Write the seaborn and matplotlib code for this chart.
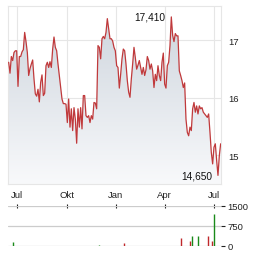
import numpy as np
import pandas as pd
import matplotlib
matplotlib.use("Agg")
import matplotlib.pyplot as plt
from matplotlib.colors import LinearSegmentedColormap
import matplotlib.dates as mdates
import seaborn as sns

# ---------------- data ----------------
start_date = "2023-06-15"
end_date = "2024-07-14"
prices = [
    16.62, 16.43, 16.72, 16.65, 16.79, 16.82, 16.82, 16.20, 16.72, 16.72,
    16.80, 16.84, 17.14, 16.98, 16.79, 16.39, 16.51, 16.59, 16.66, 16.33,
    16.07, 16.03, 16.15, 15.93, 16.27, 16.40, 16.04, 16.08, 16.56, 16.62,
    16.53, 16.63, 16.53, 16.85, 17.06, 16.88, 16.82, 16.59, 16.39, 16.18,
    15.98, 15.90, 15.90, 15.89, 15.57, 15.98, 15.49, 15.81, 15.43, 15.83,
    15.63, 15.21, 15.81, 15.49, 15.83, 15.46, 16.04, 16.04, 15.69, 15.66,
    15.69, 15.57, 15.69, 15.63, 15.92, 15.91, 15.81, 16.91, 16.88, 16.68,
    17.03, 17.07, 17.03, 17.14, 17.38, 17.20, 17.03, 17.03, 16.99, 16.88,
    16.82, 16.56, 16.53, 16.17, 16.41, 16.68, 16.85, 16.82, 16.59, 16.30,
    16.10, 16.01, 16.33, 16.59, 16.88, 16.70, 16.50, 16.57, 16.65, 16.53,
    16.41, 16.53, 16.39, 16.49, 16.72, 16.65, 16.50, 16.59, 16.47, 16.18,
    16.41, 16.30, 16.56, 16.39, 16.30, 16.62, 16.78, 16.24, 16.17, 16.56,
    16.62, 16.91, 17.41, 17.09, 16.98, 17.12, 17.08, 17.08, 16.47, 16.39,
    16.30, 16.18, 16.26, 15.63, 15.40, 15.34, 15.49, 15.43, 15.81, 15.92,
    15.75, 15.86, 15.72, 15.86, 15.81, 15.83, 15.75, 15.72, 15.69, 15.66,
    15.72, 15.40, 15.05, 14.85, 15.14, 15.20, 14.91, 14.65, 14.99, 15.20,
]
vol_dates = ["2023-06-23", "2023-11-30", "2024-01-16", "2024-05-01", "2024-05-18",
             "2024-05-21", "2024-06-01", "2024-06-21", "2024-06-28", "2024-07-01"]
vol_values = [140, 50, 110, 290, 170, 370, 370, 370, 170, 1200]
vol_up = [True, True, False, False, False, True, True, False, False, True]

month_ticks = ["2023-07-01", "2023-10-01", "2024-01-01", "2024-04-01", "2024-07-01"]
month_labels = ["Jul", "Okt", "Jan", "Apr", "Jul"]
price_ticks = [15, 16, 17]
vol_ticks = [0, 750, 1500]
vol_tick_labels = ["0", "750", "1500"]
max_label = "17,410"
min_label = "14,650"

# ---------------- styling ----------------
sns.set_style("white")
plt.rcParams["font.family"] = ["Liberation Sans", "DejaVu Sans"]

LINE = "#c0393b"
GRID = "#e6e6e6"
TXT = "#222222"

df = pd.DataFrame({
    "date": pd.date_range(start_date, end_date, periods=len(prices)),
    "price": prices,
})
vdf = pd.DataFrame({"date": pd.to_datetime(vol_dates), "vol": vol_values, "up": vol_up})

fig = plt.figure(figsize=(2.64, 2.55), dpi=100)
ax = fig.add_axes([8 / 264, 70 / 255, 213 / 264, 178 / 255])
axv = fig.add_axes([8 / 264, 8 / 255, 213 / 264, 40 / 255])

xlo = pd.Timestamp("2023-06-13 18:00")
xhi = pd.Timestamp("2024-07-14 16:00")
ylo, yhi = 14.5, 17.6

# gradient fill under the line
xnum = mdates.date2num(df["date"])
poly = ax.fill_between(xnum, df["price"], ylo, facecolor="none", lw=0)
cmap = LinearSegmentedColormap.from_list("g", ["#f8f9fb", "#cfd6de"])
grad = np.linspace(0, 1, 256).reshape(-1, 1)
im = ax.imshow(grad, extent=[xnum[0], xnum[-1], ylo, max(prices)], aspect="auto",
               cmap=cmap, origin="lower", zorder=1, interpolation="bilinear")
im.set_clip_path(poly.get_paths()[0], transform=ax.transData)

sns.lineplot(data=df, x="date", y="price", ax=ax, color=LINE, lw=0.9, zorder=3)

ax.set_xlim(xlo, xhi)
ax.set_ylim(ylo, yhi)
ax.set_xticks(pd.to_datetime(month_ticks))
ax.set_xticklabels(month_labels)
ax.set_yticks(price_ticks)
ax.set_yticklabels([str(t) for t in price_ticks])
ax.yaxis.tick_right()
ax.tick_params(axis="both", length=0, labelsize=6.8, colors=TXT)
ax.tick_params(axis="x", pad=4)
ax.tick_params(axis="y", pad=5)
ax.grid(True, color=GRID, lw=0.8)
ax.set_axisbelow(True)
for s in ax.spines.values():
    s.set_visible(True)
    s.set_color(GRID)
    s.set_linewidth(0.8)
ax.set_xlabel("")
ax.set_ylabel("")

# annotations
imax = int(np.argmax(prices))
imin = int(np.argmin(prices))
ax.annotate(max_label, xy=(df["date"][imax], prices[imax]), xytext=(-4, 0),
            textcoords="offset points", ha="right", va="center", fontsize=7.3, color="#111111")
ax.annotate(min_label, xy=(df["date"][imin], prices[imin]), xytext=(-4, 0),
            textcoords="offset points", ha="right", va="center", fontsize=7.3, color="#111111")

# volume panel
colors = ["#1a8a1a" if u else "#c0282b" for u in vdf["up"]]
axv.vlines(vdf["date"], 0, vdf["vol"], colors=colors, lw=1.0)
axv.set_xlim(xlo, xhi)
axv.set_ylim(0, 1500)
axv.set_yticks(vol_ticks)
axv.set_yticklabels(vol_tick_labels)
axv.yaxis.tick_right()
axv.xaxis.tick_top()
axv.set_xticks(pd.to_datetime(month_ticks))
axv.tick_params(axis="x", direction="inout", length=3, width=0.8, colors="#222222",
                labeltop=False, labelbottom=False)
axv.tick_params(axis="y", direction="out", length=3, width=0.8, pad=1.5,
                labelsize=6.8, colors=TXT)
axv.grid(True, axis="y", color="#cccccc", lw=0.9)
axv.grid(False, axis="x")
for s in axv.spines.values():
    s.set_visible(False)
axv.set_facecolor("none")

fig.savefig("out.png", dpi=100)
